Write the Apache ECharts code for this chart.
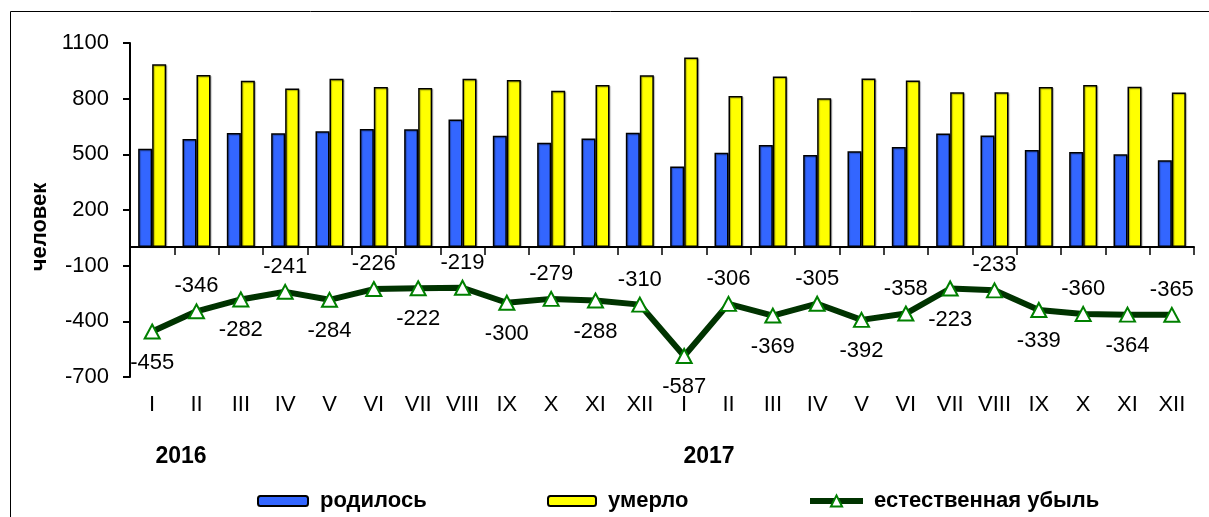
<!DOCTYPE html>
<html>
<head>
    <meta charset="utf-8">
    <title>родилось / умерло</title>
    <script src="https://cdn.jsdelivr.net/npm/echarts@6/dist/echarts.min.js"></script>
    <style>
        html, body { margin: 0; padding: 0; background: #fff; }
        #chart1 { width: 1209px; height: 517px; }
    </style>
</head>
<body>
    <div id="chart1"></div>
    <script>
        // месяцы 2016 и 2017
        var months = ['I', 'II', 'III', 'IV', 'V', 'VI', 'VII', 'VIII', 'IX', 'X', 'XI', 'XII',
                      'I', 'II', 'III', 'IV', 'V', 'VI', 'VII', 'VIII', 'IX', 'X', 'XI', 'XII'];
        var born = [530, 582, 615, 614, 624, 637, 635, 688, 600, 563, 585, 616,
                    435, 508, 550, 497, 517, 540, 612, 601, 524, 513, 500, 468];
        var died = [985, 928, 897, 855, 908, 863, 857, 907, 900, 842, 873, 926,
                    1022, 814, 919, 802, 909, 898, 835, 834, 863, 873, 864, 833];
        var loss = [-455, -346, -282, -241, -284, -226, -222, -219, -300, -279, -288, -310,
                    -587, -306, -369, -305, -392, -358, -223, -233, -339, -360, -364, -365];
        var yTicks = {min: -700, max: 1100, step: 300};

        var font = 'Liberation Sans, Arial, sans-serif';

        // подписи убыли: через одну снизу / сверху
        var lossData = loss.map(function (v, i) {
            var below = (i % 2 === 0);
            return {
                value: v,
                label: {position: below ? 'bottom' : 'top', distance: below ? 12 : 6}
            };
        });

        var legendText = {fontFamily: font, fontSize: 22, fontWeight: 'bold', color: '#000', padding: [0, 0, 0, 7]};

        var myChart = echarts.init(document.getElementById('chart1'));
        myChart.setOption({
            animation: false,
            backgroundColor: '#fff',
            textStyle: {fontFamily: font, color: '#000'},
            grid: {left: 130, top: 43, right: 15, bottom: 140},
            legend: [
                {
                    data: ['родилось'], left: 252, top: 485,
                    itemWidth: 50, itemHeight: 10,
                    textStyle: legendText
                },
                {
                    data: ['умерло'], left: 542, top: 485,
                    itemWidth: 48, itemHeight: 10,
                    textStyle: legendText
                },
                {
                    data: ['естественная убыль'], left: 802, top: 485,
                    itemWidth: 53, itemHeight: 14,
                    lineStyle: {width: 6, color: '#003300'},
                    textStyle: {fontFamily: font, fontSize: 22, fontWeight: 'bold', color: '#000', padding: [0, 0, 0, 6]}
                }
            ],
            xAxis: [
                {
                    type: 'category',
                    data: months,
                    position: 'bottom',
                    axisLine: {onZero: true, lineStyle: {color: '#000', width: 2}},
                    axisTick: {show: true, length: 8, lineStyle: {color: '#000', width: 1.5}},
                    axisLabel: {show: false}
                },
                {
                    type: 'category',
                    data: months,
                    position: 'bottom',
                    axisLine: {show: false, onZero: false},
                    axisTick: {show: false},
                    axisLabel: {show: true, margin: 17, fontSize: 22, color: '#000', fontFamily: font, interval: 0}
                }
            ],
            yAxis: {
                type: 'value',
                min: yTicks.min,
                max: yTicks.max,
                interval: yTicks.step,
                splitLine: {show: false},
                axisLine: {show: true, lineStyle: {color: '#000', width: 2}},
                axisTick: {show: true, length: 7, lineStyle: {color: '#000', width: 2}},
                axisLabel: {
                    margin: 21, fontSize: 22, color: '#000', fontFamily: font,
                    formatter: function (v) { return String(v); }
                }
            },
            graphic: [
                {
                    type: 'rect', silent: true, z: -10,
                    shape: {x: 10.5, y: 11.5, width: 1300, height: 600},
                    style: {fill: 'none', stroke: '#000', lineWidth: 1}
                },
                {
                    type: 'text', x: 40, y: 227, rotation: Math.PI / 2,
                    style: {text: 'человек', font: 'bold 22px ' + font, fill: '#000', align: 'center', verticalAlign: 'middle'}
                },
                {
                    type: 'text', x: 181, y: 457,
                    style: {text: '2016', font: 'bold 23px ' + font, fill: '#000', align: 'center', verticalAlign: 'middle'}
                },
                {
                    type: 'text', x: 709, y: 457,
                    style: {text: '2017', font: 'bold 23px ' + font, fill: '#000', align: 'center', verticalAlign: 'middle'}
                }
            ],
            series: [
                {
                    name: 'родилось',
                    type: 'bar',
                    data: born,
                    barWidth: 14,
                    barGap: '0%',
                    itemStyle: {
                        color: '#3366FF', borderColor: '#000', borderWidth: 1.5,
                        shadowColor: 'rgba(0,0,0,0.3)', shadowOffsetX: 1, shadowOffsetY: 1, shadowBlur: 1
                    }
                },
                {
                    name: 'умерло',
                    type: 'bar',
                    data: died,
                    barWidth: 14,
                    barGap: '0%',
                    itemStyle: {
                        color: '#FFFF00', borderColor: '#000', borderWidth: 1.5,
                        shadowColor: 'rgba(0,0,0,0.3)', shadowOffsetX: 1, shadowOffsetY: 1, shadowBlur: 1
                    }
                },
                {
                    name: 'естественная убыль',
                    type: 'line',
                    data: lossData,
                    symbol: 'triangle',
                    symbolSize: [15, 14],
                    lineStyle: {color: '#003300', width: 6},
                    itemStyle: {color: '#fff', borderColor: '#008000', borderWidth: 2},
                    label: {show: true, fontSize: 22, color: '#000', fontFamily: font},
                    z: 5
                }
            ]
        });
    </script>
</body>
</html>
